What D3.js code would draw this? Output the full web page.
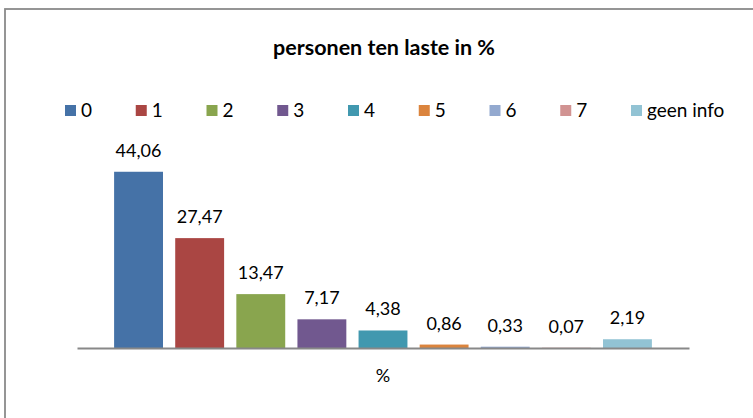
<!DOCTYPE html>
<html>
<head>
<meta charset="utf-8">
<script src="https://cdn.jsdelivr.net/npm/d3@7"></script>
<style>
  body { margin: 0; background: #fff; }
  text { font-family: Lato, "Open Sans", sans-serif; fill: #000; }
</style>
</head>
<body>
<div class="chart"></div>
<script>
// data
const title = "personen ten laste in %";
const category = ["%"];
const series = ["0", "1", "2", "3", "4", "5", "6", "7", "geen info"];
const values = [44.06, 27.47, 13.47, 7.17, 4.38, 0.86, 0.33, 0.07, 2.19];
const colors = ["#4572A7", "#AA4643", "#89A54E", "#71588F", "#4198AF", "#DB843D", "#93A9CF", "#D19392", "#92C3D4"];

const W = 753, H = 418;
const margin = {top: 148, right: 64, bottom: 70, left: 77};
const width = W - margin.left - margin.right;
const height = H - margin.top - margin.bottom;

const fmt = v => d3.format(".2f")(v).replace(".", ",");

const root = d3.select(".chart").append("svg")
    .attr("width", W)
    .attr("height", H);

// outer border (right and bottom fall outside the picture)
root.append("rect")
    .attr("x", 5).attr("y", 9)
    .attr("width", 780).attr("height", 440)
    .attr("fill", "none")
    .attr("stroke", "#8a8a8a")
    .attr("stroke-width", 1.8);

root.append("text")
    .attr("x", 384).attr("y", 55)
    .attr("text-anchor", "middle")
    .style("font-size", "21.5px")
    .style("font-weight", "bold")
    .text(title);

// legend
const legend = root.append("g").attr("transform", "translate(65,105)");
const lg = legend.selectAll("g")
    .data(series)
    .enter().append("g")
    .attr("transform", (d, i) => `translate(${i * 70.75},0)`);
lg.append("rect")
    .attr("width", 11).attr("height", 11)
    .attr("fill", (d, i) => colors[i]);
lg.append("text")
    .attr("x", 16).attr("y", 12)
    .style("font-size", "19px")
    .text(d => d);

const svg = root.append("g")
    .attr("transform", `translate(${margin.left},${margin.top})`);

const x0 = d3.scaleBand()
    .domain(category)
    .range([0, width])
    .paddingInner(0)
    .paddingOuter(0.069);

const x1 = d3.scaleBand()
    .domain(series)
    .range([0, x0.bandwidth()])
    .paddingInner(0.2)
    .paddingOuter(0);

const y = d3.scaleLinear()
    .domain([0, 50])
    .range([height, 0]);

const grp = svg.append("g")
    .attr("transform", `translate(${x0(category[0])},0)`);

grp.selectAll("rect")
    .data(values)
    .enter().append("rect")
    .attr("x", (d, i) => x1(series[i]))
    .attr("y", d => y(d))
    .attr("width", x1.bandwidth())
    .attr("height", d => height - y(d))
    .attr("fill", (d, i) => colors[i]);

grp.selectAll(".lbl")
    .data(values)
    .enter().append("text")
    .attr("class", "lbl")
    .attr("x", (d, i) => x1(series[i]) + x1.bandwidth() / 2)
    .attr("y", d => y(d) - 15)
    .attr("text-anchor", "middle")
    .style("font-size", "18px")
    .text(d => fmt(d));

// x axis
const xAxis = d3.axisBottom(x0).tickSize(0).tickPadding(21);
const ax = svg.append("g")
    .attr("transform", `translate(0,${height})`)
    .call(xAxis);
ax.select(".domain").attr("stroke", "#888").attr("stroke-width", 2);
ax.selectAll("text")
    .style("font-size", "18px")
    .style("font-family", "Lato, sans-serif")
    .attr("fill", "#000");
</script>
</body>
</html>
